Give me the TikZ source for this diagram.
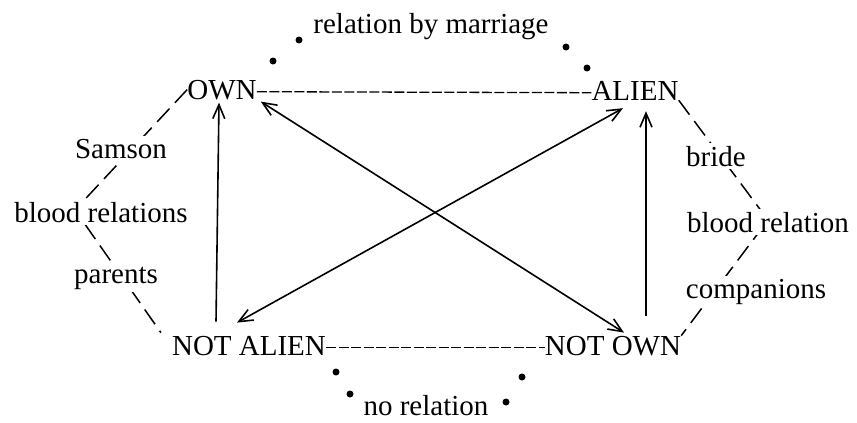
\documentclass[tikz,border=0pt]{standalone}
\usepackage{fontspec}
\setmainfont{Liberation Serif}
\usetikzlibrary{arrows.meta}
\begin{document}
\begin{tikzpicture}[x=1pt,y=-1pt,
  every node/.style={font=\fontsize{29}{31}\selectfont, inner sep=0pt, anchor=base},
  lbl/.style={fill=white, inner sep=3pt},
  hdash/.style={line width=1.3pt, dash pattern=on 10pt off 2.5pt},
  sdash/.style={line width=1.5pt, dash pattern=on 18pt off 8pt},
  rel/.style={line width=1.6pt},
  tipa/.style={-{Straight Barb[length=14pt,width=12pt]}},
  tipb/.style={{Straight Barb[length=14pt,width=12pt]}-{Straight Barb[length=14pt,width=12pt]}},
  dotmark/.style={fill=black}
]
\useasboundingbox (0,0) rectangle (857,423);

% main terms
\node (own) at (222,99) {OWN};
\node (alien) at (635,100) {ALIEN};
\node (notalien) at (249,355) {NOT ALIEN};
\node (notown) at (613,355) {NOT OWN};

% horizontal dashed links
\draw[hdash] ([yshift=5pt]own.mid east) -- ([yshift=5pt]alien.mid west);
\draw[hdash] ([yshift=5pt]notalien.mid east) -- ([yshift=5pt]notown.mid west);

% side dashed links
\coordinate (lv) at (75,210);
\coordinate (rv) at (768,220);
\draw[sdash] (own.west) -- (lv) -- ([xshift=-11pt,yshift=3pt]notalien.north west);
\draw[sdash] (alien.south east) -- (rv) -- (notown.north east);

% arrows
\draw[rel, tipa] ([xshift=-33pt,yshift=14pt]notalien.north) -- ([xshift=-3pt,yshift=-3pt]own.south);
\draw[rel, tipa] ([xshift=33pt,yshift=20pt]notown.north) -- ([xshift=11pt,yshift=-11pt]alien.south);
\draw[rel, tipb] ([xshift=4pt,yshift=-2pt]own.south east) -- ([xshift=11pt,yshift=3pt]notown.north);
\draw[rel, tipb] ([xshift=-12pt,yshift=13pt]notalien.north) -- ([xshift=-12pt,yshift=-8pt]alien.south);

% dots
\fill[dotmark] (299,40) circle (3.5pt);
\fill[dotmark] (273,61) circle (3.5pt);
\fill[dotmark] (566,47) circle (3.5pt);
\fill[dotmark] (587,68) circle (3.5pt);
\fill[dotmark] (336,372) circle (3.5pt);
\fill[dotmark] (350,394) circle (3.5pt);
\fill[dotmark] (522,377) circle (3.5pt);
\fill[dotmark] (506,402) circle (3.5pt);

% labels
\node[lbl] (rbm) at (431,33) {relation by marriage};
\node[lbl] (samson) at (121,158) {Samson};
\node[lbl] (bloodl) at (101,222) {blood relations};
\node[lbl] (parents) at (116,283) {parents};
\node[lbl] (bride) at (716,166) {bride};
\node[lbl] (bloodr) at (768,232) {blood relation};
\node[lbl] (comp) at (756,298) {companions};
\node[lbl] (norel) at (426,415) {no relation};
\end{tikzpicture}
\end{document}
